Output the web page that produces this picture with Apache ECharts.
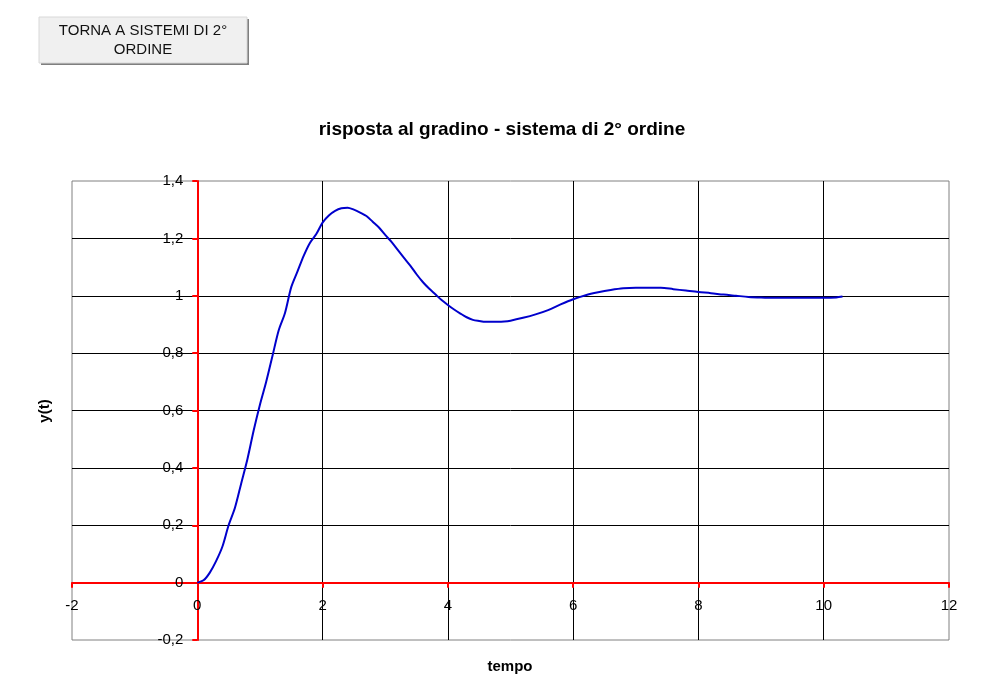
<!DOCTYPE html>
<html>
<head>
<meta charset="utf-8">
<script src="https://cdn.jsdelivr.net/npm/echarts@6/dist/echarts.min.js"></script>
<style>
html,body{margin:0;padding:0;background:#fff;}
#chart{width:1003px;height:680px;}
</style>
</head>
<body>
<div id="chart"></div>
<script>
const titleText = 'risposta al gradino - sistema di 2° ordine';
const xTitle = 'tempo';
const yTitle = 'y(t)';
const buttonText = 'TORNA A SISTEMI DI 2°\nORDINE';

const tempo = [0,0.1,0.2,0.3,0.4,0.5,0.6,0.7,0.8,0.9,1.0,1.1,1.2,1.3,1.4,1.5,1.6,1.7,1.8,1.9,
  2.0,2.1,2.2,2.3,2.4,2.5,2.6,2.7,2.8,2.9,3.0,3.1,3.2,3.3,3.4,3.5,3.6,3.7,3.8,3.9,
  4.0,4.1,4.2,4.3,4.4,4.5,4.6,4.7,4.8,4.9,5.0,5.2,5.4,5.6,5.8,6.0,6.2,6.4,6.6,6.8,
  7.0,7.2,7.4,7.6,7.8,8.0,8.2,8.4,8.6,8.8,9.0,9.2,9.4,9.6,9.8,10.0,10.2,10.3];
const yValues = [0,0.008,0.035,0.075,0.125,0.2,0.26,0.345,0.43,0.53,0.62,0.70,0.79,0.88,0.94,1.03,1.085,1.14,1.185,1.215,
  1.255,1.28,1.296,1.305,1.307,1.30,1.29,1.278,1.258,1.238,1.212,1.188,1.16,1.132,1.105,1.075,1.048,1.025,1.005,0.985,
  0.968,0.952,0.938,0.925,0.916,0.912,0.909,0.909,0.909,0.910,0.913,0.923,0.935,0.950,0.970,0.988,1.002,1.012,1.020,1.026,
  1.028,1.028,1.028,1.023,1.018,1.013,1.009,1.004,1.000,0.996,0.994,0.993,0.993,0.993,0.993,0.993,0.994,0.997];

const xMin = -2, xMax = 12, xStep = 2;
const yMin = -0.2, yMax = 1.4, yStep = 0.2;

const gridLeft = 72, gridRight = 54, gridTop = 181, gridBottom = 40;
const plotW = 1003 - gridLeft - gridRight;
const plotH = 680 - gridTop - gridBottom;
// shift axes so they cross at the origin (labels move with them)
const yAxisOffset = -(0 - xMin) / (xMax - xMin) * plotW;
const xAxisOffset = -(0 - yMin) / (yMax - yMin) * plotH;

const chart = echarts.init(document.getElementById('chart'), null, {renderer: 'canvas'});
const font = '"Liberation Sans", Arial, sans-serif';

const option = {
  animation: false,
  backgroundColor: '#fff',
  title: {
    text: titleText,
    left: 497, top: 115,
    textAlign: 'center',
    textStyle: {fontFamily: font, fontSize: 19, fontWeight: 'bold', color: '#000'}
  },
  grid: {
    left: gridLeft, right: gridRight, top: gridTop, bottom: gridBottom,
    containLabel: false, outerBoundsMode: 'none',
    show: true, borderColor: '#808080', borderWidth: 1, backgroundColor: '#fff'
  },
  xAxis: {
    type: 'value', min: xMin, max: xMax, interval: xStep,
    position: 'bottom', offset: xAxisOffset,
    axisLine: {onZero: false, lineStyle: {color: '#ff0000', width: 2}},
    axisTick: {show: true, length: 5, lineStyle: {color: '#ff0000', width: 2}},
    axisLabel: {fontFamily: font, fontSize: 15, color: '#000', margin: 16},
    splitLine: {show: true, showMinLine: false, showMaxLine: false, lineStyle: {color: '#000', width: 1}}
  },
  yAxis: {
    type: 'value', min: yMin, max: yMax, interval: yStep,
    position: 'left', offset: yAxisOffset,
    axisLine: {onZero: false, lineStyle: {color: '#ff0000', width: 2}},
    axisTick: {show: true, length: 5, lineStyle: {color: '#ff0000', width: 2}},
    axisLabel: {fontFamily: font, fontSize: 15, color: '#000', margin: 14,
      formatter: v => String(Math.round(v * 10) / 10).replace('.', ',')},
    splitLine: {show: true, showMinLine: false, showMaxLine: false, lineStyle: {color: '#000', width: 1}}
  },
  series: [{
    type: 'line',
    data: tempo.map((t, i) => [t, yValues[i]]),
    showSymbol: false,
    smooth: 0.3,
    lineStyle: {color: '#0000cc', width: 2},
    z: 5
  }],
  graphic: [
    {type: 'rect', shape: {x: 41, y: 19, width: 208, height: 46}, style: {fill: '#7f7f7f'}},
    {type: 'rect', shape: {x: 39, y: 17, width: 208, height: 46}, style: {fill: '#f0f0f0', stroke: '#d8d8d8', lineWidth: 1}},
    {type: 'text', x: 143, y: 21, style: {text: buttonText, fill: '#111', font: '15px ' + font, textAlign: 'center', lineHeight: 19}},
    {type: 'text', x: 510, y: 667, style: {text: xTitle, fill: '#000', font: 'bold 15px ' + font, textAlign: 'center', textVerticalAlign: 'middle'}},
    {type: 'text', x: 45, y: 411, rotation: Math.PI / 2, style: {text: yTitle, fill: '#000', font: 'bold 15px ' + font, textAlign: 'center', textVerticalAlign: 'middle'}}
  ]
};
chart.setOption(option);
</script>
</body>
</html>
